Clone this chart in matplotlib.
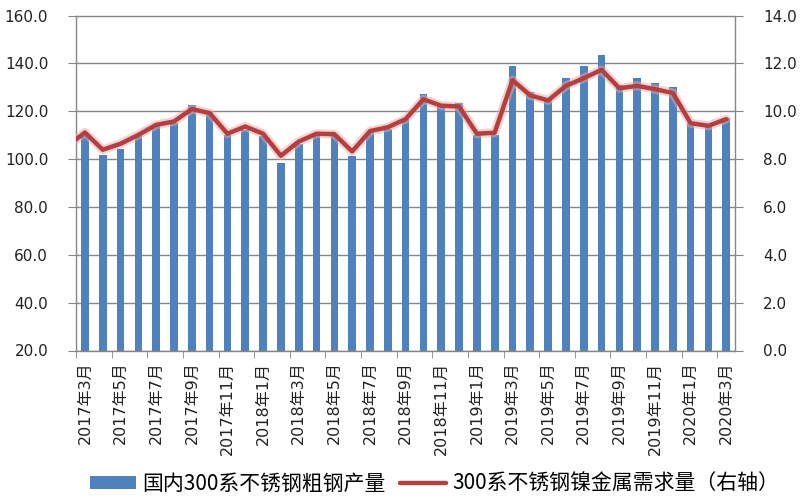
"""Domestic 300-series stainless crude steel output vs nickel demand, 2017-03 to 2020-03."""

from __future__ import annotations

import matplotlib

matplotlib.use("Agg")
import matplotlib.pyplot as plt
import numpy as np

plt.rcParams["font.family"] = ["DejaVu Sans", "Noto Sans CJK SC"]

# month labels, 2017年3月 .. 2020年3月
MONTHS = [f"{2017 + (m - 1) // 12}年{(m - 1) % 12 + 1}月" for m in range(3, 40)]

# 国内300系不锈钢粗钢产量 (left axis)
OUTPUT = [
    109.5, 101.8, 104.4, 110.2, 114.0, 115.1, 122.4, 119.6, 110.2, 112.3,
    109.5, 98.4, 106.5, 109.8, 109.5, 101.2, 111.1, 112.6, 117.0, 127.3,
    122.8, 123.3, 110.0, 110.0, 138.8, 128.0, 125.2, 133.7, 138.8, 143.4,
    130.8, 133.7, 131.9, 130.0, 115.1, 114.4, 117.2,
]

# 300系不锈钢镍金属需求量 (right axis); first value is 2017年2月, cut off at the axis edge
NICKEL = [
    8.53,
    9.11, 8.39, 8.64, 9.01, 9.43, 9.57, 10.09, 9.92, 9.06, 9.36,
    9.06, 8.14, 8.73, 9.06, 9.04, 8.32, 9.17, 9.33, 9.67, 10.50,
    10.23, 10.20, 9.06, 9.10, 11.30, 10.66, 10.45, 11.06, 11.38, 11.73,
    10.96, 11.06, 10.92, 10.76, 9.50, 9.39, 9.67,
]

LEFT_TICKS = [20, 40, 60, 80, 100, 120, 140, 160]
RIGHT_TICKS = [0, 2, 4, 6, 8, 10, 12, 14]

BAR_COLOR = "#4F81BD"
LINE_COLOR = "#B3403F"
GRID_COLOR = "#868686"
LABELS = ["国内300系不锈钢粗钢产量", "300系不锈钢镍金属需求量（右轴）"]


def main() -> None:
    fig = plt.figure(figsize=(8, 5), dpi=100)
    ax = fig.add_axes([0.095, 0.299, 0.824, 0.670])
    ax2 = ax.twinx()

    x = np.arange(len(MONTHS))
    bars = ax.bar(x, OUTPUT, width=0.43, color=BAR_COLOR, zorder=2)

    line_x = np.arange(-1, len(NICKEL) - 1)
    ax2.plot(line_x, NICKEL, color="#E9A8A8", lw=6.5, alpha=0.5,
             solid_capstyle="round", solid_joinstyle="round")
    (line,) = ax2.plot(line_x, NICKEL, color=LINE_COLOR, lw=3.2,
                       solid_capstyle="round", solid_joinstyle="round")

    ax.set_xlim(-0.5, len(MONTHS) - 0.5)
    ax.set_ylim(20, 160)
    ax2.set_ylim(0, 14)
    ax.set_yticks(LEFT_TICKS)
    ax.set_yticklabels([f"{v:.1f}" for v in LEFT_TICKS])
    ax2.set_yticks(RIGHT_TICKS)
    ax2.set_yticklabels([f"{v:.1f}" for v in RIGHT_TICKS])

    ax.set_xticks(x[::2])
    ax.set_xticklabels(MONTHS[::2], rotation=90, fontsize=11.5)
    ax.set_xticks(np.arange(-0.5, len(MONTHS) - 1, 2), minor=True)
    ax.tick_params(axis="x", which="major", length=0, pad=8, colors="#222222")
    ax.tick_params(axis="x", which="minor", length=5, color=GRID_COLOR, direction="out")
    ax.tick_params(axis="y", length=6, color=GRID_COLOR, pad=14, labelsize=11,
                   labelcolor="#222222")
    ax2.tick_params(axis="y", length=6, color=GRID_COLOR, pad=14, labelsize=11,
                    labelcolor="#222222")

    ax.grid(axis="y", color=GRID_COLOR, lw=1)
    ax.set_axisbelow(True)
    for a in (ax, ax2):
        for side in ("top", "left", "right", "bottom"):
            a.spines[side].set_visible(False)
    ax.spines["left"].set_visible(True)
    ax.spines["bottom"].set_visible(True)
    ax2.spines["right"].set_visible(True)
    for spine in (ax.spines["left"], ax.spines["bottom"], ax2.spines["right"]):
        spine.set_color(GRID_COLOR)
        spine.set_linewidth(1)

    fig.legend(
        [bars, line],
        LABELS,
        loc="center",
        bbox_to_anchor=(0.543, 0.033),
        ncol=2,
        frameon=False,
        handlelength=2.2,
        handleheight=0.6,
        handletextpad=0.3,
        columnspacing=0.7,
        prop={"family": ["Noto Sans CJK SC", "DejaVu Sans"], "size": 15},
    )

    fig.savefig("out.png", dpi=100)
    plt.close(fig)


if __name__ == "__main__":
    main()
